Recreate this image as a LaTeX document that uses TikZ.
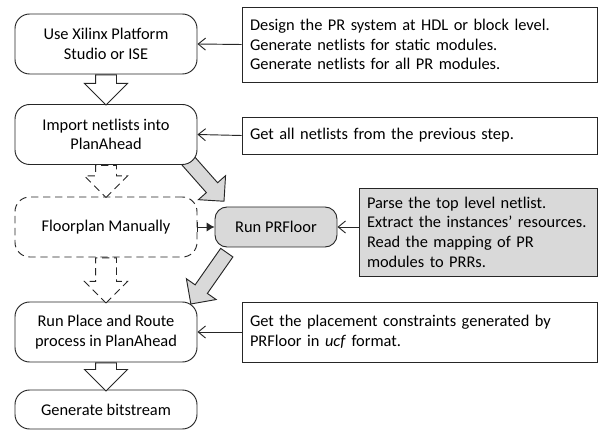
\documentclass[tikz,border=0pt]{standalone}
\usepackage{xcolor}
\usepackage{fontspec}
\setmainfont{Carlito}
\usepackage{tikz}
\usetikzlibrary{shapes.arrows,arrows.meta,calc,backgrounds}
\definecolor{prgray}{HTML}{D9D9D9}
\definecolor{lncolor}{HTML}{262626}
\newcommand*\pxu{0.75pt}

\tikzset{
  flowbox/.style={draw=lncolor, line width=0.7pt, rounded corners=11pt, fill=white, align=center,
    minimum width=182*\pxu, minimum height=60*\pxu, inner sep=0pt},
  toolbox/.style={flowbox, fill=prgray, rounded corners=9pt, minimum width=122*\pxu, minimum height=40*\pxu},
  notebox/.style={draw=lncolor, line width=0.7pt, fill=white, align=left, inner xsep=8*\pxu, inner ysep=0pt},
  notearrow/.style={draw=lncolor, line width=0.7pt, -{Straight Barb[length=5.5pt,width=9pt]}},
  hollowarrow/.style={single arrow, draw=lncolor, line width=0.7pt, fill=white, inner xsep=0pt,
    inner ysep=7.5pt, single arrow head extend=8.25pt, rotate=-90, anchor=tail},
  grayarrow/.style={single arrow, draw=lncolor, line width=0.7pt, fill=prgray, inner xsep=0pt,
    inner ysep=5.25pt, single arrow head extend=8pt},
  manual/.style={dash pattern=on 5.5pt off 3.5pt}
}

\begin{document}
\begin{tikzpicture}[x=0.75pt, y=-0.75pt, font=\fontsize{12.3pt}{14.8pt}\selectfont]
\useasboundingbox (0,0) rectangle (600,431);
% steps of the flow
\node[flowbox] (xps) at (106,44) {Use Xilinx Platform\\Studio or ISE};
\node[flowbox] (imp) at (106,134.5) {Import netlists into\\PlanAhead};
\node[flowbox, manual] (flp) at (106,227) {Floorplan Manually};
\node[flowbox] (par) at (106,332) {Run Place and Route\\process in PlanAhead};
\node[flowbox, minimum height=39*\pxu] (bit) at (106,409.5) {Generate bitstream};
\node[toolbox] (prf) at (276,227) {Run PRFloor};
% notes on the right
\node[notebox, text width=339*\pxu, minimum height=75*\pxu] (nxps) at (419.5,44.5)
  {Design the PR system at HDL or block level.\\Generate netlists for static modules.\\Generate netlists for all PR modules.};
\node[notebox, text width=339*\pxu, minimum height=37*\pxu] (nimp) at (419.5,135.5)
  {Get all netlists from the previous step.};
\node[notebox, fill=prgray, text width=222*\pxu, minimum height=88*\pxu] (nprf) at (478,232)
  {Parse the top level netlist.\\Extract the instances' resources.\\Read the mapping of PR\\modules to PRRs.};
\node[notebox, text width=339*\pxu, minimum height=60*\pxu] (npar) at (419.5,332)
  {Get the placement constraints generated by\\PRFloor in \textit{ucf} format.};
% flow arrows
\node[hollowarrow, minimum height=22.5pt] (a1) at (xps.south) {};
\node[hollowarrow, manual, minimum height=24pt] (a2) at (imp.south) {};
\node[hollowarrow, manual, minimum height=33.75pt] (a3) at (flp.south) {};
\node[hollowarrow, minimum height=21pt] (a4) at (par.south) {};
\begin{pgfonlayer}{background}
\node[grayarrow, anchor=tail, rotate=-48.5, minimum height=41pt] (g1) at ($(imp.south east)+(-10,-5)$) {};
\node[grayarrow, anchor=tip, rotate=-125, minimum height=47pt] (g2) at ($(par.north east)+(-7,3)$) {};
\end{pgfonlayer}
\draw[notearrow] (nxps.west) -- (xps.east);
\draw[notearrow] (nimp.west) -- (imp.east);
\draw[notearrow] (nprf.west |- prf.east) -- (prf.east);
\draw[notearrow] (npar.west) -- (par.east);
\draw[draw=lncolor, line width=0.7pt, {Bar[width=7.5pt]}-{Latex[length=6pt,width=7pt]}] (flp.east) -- (prf.west);
\end{tikzpicture}
\end{document}
